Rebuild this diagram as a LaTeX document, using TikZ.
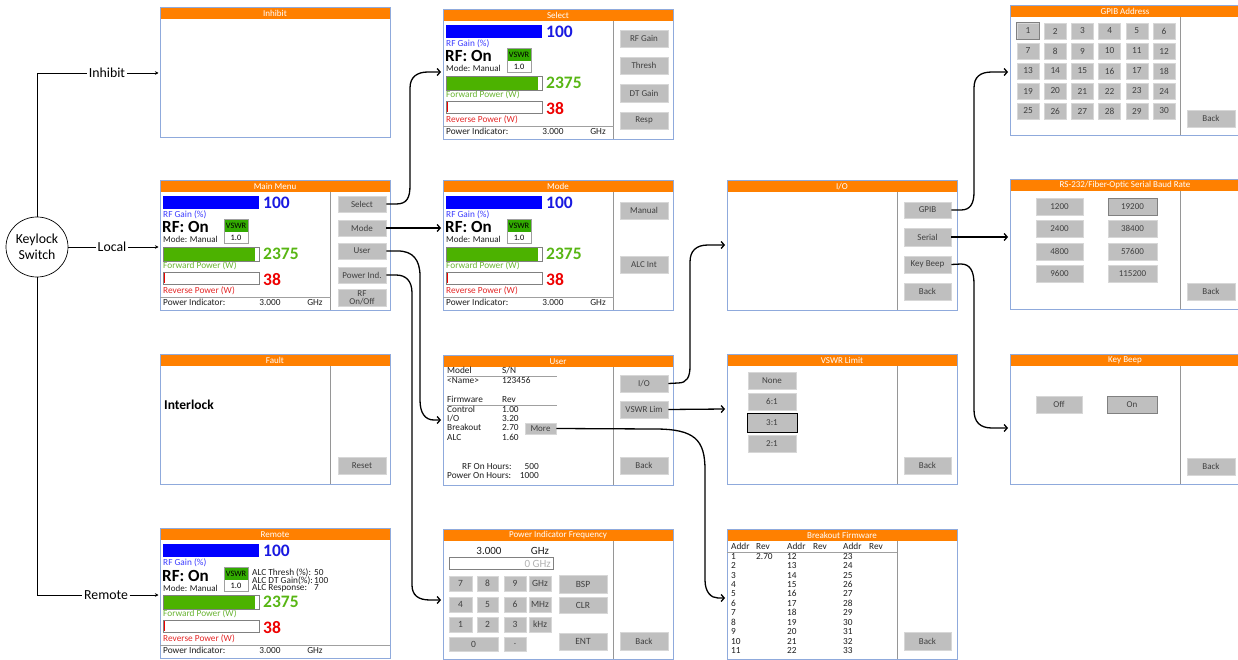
\documentclass[tikz,border=0pt]{standalone}
\usepackage{fontspec}
\setmainfont{Carlito}
\usetikzlibrary{arrows.meta,shapes.geometric}
\definecolor{ttlor}{RGB}{255,128,0}
\definecolor{pbord}{RGB}{143,170,220}
\definecolor{divg}{RGB}{150,150,150}
\definecolor{btnf}{RGB}{191,191,191}
\definecolor{btnb}{RGB}{215,215,215}
\definecolor{btnt}{RGB}{64,64,64}
\definecolor{gbar}{RGB}{0,0,255}
\definecolor{gnum}{RGB}{25,25,225}
\definecolor{gtxt}{RGB}{60,60,255}
\definecolor{fbar}{RGB}{76,178,0}
\definecolor{fnum}{RGB}{88,182,20}
\definecolor{ftxt}{RGB}{105,180,50}
\definecolor{vswrg}{RGB}{50,170,0}
\definecolor{rnum}{RGB}{238,0,0}
\definecolor{rtxt}{RGB}{228,40,40}
\definecolor{lgray}{RGB}{160,160,160}
\definecolor{txtc}{RGB}{30,30,30}

\newcommand{\fsm}{\fontsize{9.3}{9}\selectfont}
\newcommand{\fbt}{\fontsize{9}{8}\selectfont}
\newcommand{\fbg}{\fontsize{17.5}{18}\selectfont\bfseries}
\newcommand{\frf}{\fontsize{17}{18}\selectfont\bfseries}
\newcommand{\fti}{\fontsize{9}{9}\selectfont}
\newcommand{\flb}{\fontsize{13.8}{16}\selectfont}

\tikzset{
  panelbox/.style={fill=white, anchor=north west, inner sep=0pt, minimum width=230pt, minimum height=130pt},
  ttl/.style={text=white, font=\fti, inner sep=0pt},
  btn/.style={draw=btnb, fill=btnf, text=btnt, font=\fbt, inner sep=0pt, line width=0.6pt, align=center},
  txt/.style={font=\fsm, inner sep=0pt, anchor=west, text=txtc, text height=6pt, text depth=1.6pt},
  bignum/.style={font=\fbg, inner sep=0pt, anchor=west, text height=11.5pt, text depth=0pt},
  conn/.style={line width=1.3pt, -{Straight Barb[length=3pt,width=7pt]}},
  kline/.style={line width=0.7pt},
  karrow/.style={-{Stealth[length=3.5pt,width=3.5pt]}},
}

% panel: name, x0, y0, title, divider
\newcommand{\scr}[5]{%
  \node[panelbox] (#1) at (#2,#3) {};
  \fill[ttlor] (#2,#3) rectangle ++(230,12);
  \draw[pbord,line width=0.9pt] (#2,#3) rectangle ++(230,130);
  \node[ttl] (#1T) at ({#2+115},{#3+6.3}) {#4};
  \ifnum#5=1 \draw[divg,line width=0.8pt] ({#2+170.5},{#3+12}) -- ({#2+170.5},{#3+130});\fi
}
% button: [style] name, x1, y1, x2, y2, text
\newcommand{\btn}[7][]{\node[btn,minimum width={(#5-(#3))*1pt},minimum height={(#6-(#4))*1pt},#1] (#2) at ({(#3+#5)/2},{(#4+#6)/2}) {#7};}
% RF display: x0, y0, line end
\newcommand{\rfdisp}[3]{%
\begin{scope}[shift={(#1,#2)}]
  \fill[gbar] (3,16) rectangle (99,29);
  \node[bignum,text=gnum] at (103,22.5) {100};
  \node[txt,text=gtxt] at (3,35) {RF Gain (\%)};
  \node[bignum,font=\frf,anchor=base west,text=black,text height=11pt] at (2,53) {RF: On};
  \fill[vswrg] (64,39) rectangle (88,52);
  \draw[lgray,line width=0.6pt] (64,39) rectangle (88,63);
  \node[font=\fontsize{8.3}{8}\selectfont,inner sep=0pt] at (76,45.8) {VSWR};
  \node[font=\fontsize{8.3}{8}\selectfont,inner sep=0pt] at (76,57.5) {1.0};
  \node[txt,font=\fontsize{9}{9}\selectfont,anchor=base west,text height=5.5pt,text depth=0pt] at (3,63) {Mode: Manual};
  \fill[fbar] (3,67) rectangle (95,81);
  \draw[gray,line width=0.6pt] (3,67) rectangle (99,81);
  \node[bignum,text=fnum] at (103,73.5) {2375};
  \node[txt,text=ftxt] at (3,86) {Forward Power (W)};
  \draw[gray,line width=0.6pt] (3,92) rectangle (99,104);
  \draw[rnum,line width=1pt] (4,93) -- (4,103);
  \node[bignum,text=rnum] at (103,99.5) {38};
  \node[txt,text=rtxt] at (3,111) {Reverse Power (W)};
  \draw[lgray,line width=0.6pt] (0,117) -- (#3,117);
  \node[txt] at (3,123.5) {Power Indicator:};
  \node[txt,anchor=center] at (110,123.5) {3.000};
  \node[txt,anchor=center] at (155,123.5) {GHz};
\end{scope}}

\begin{document}
\begin{tikzpicture}[x=1pt,y=-1pt]
\useasboundingbox (0,0) rectangle (1238,660);
\fill[white] (0,0) rectangle (1238,660);

% ---------- panels ----------
\scr{inh}{160}{7}{Inhibit}{0}
\scr{mm}{160}{180}{Main Menu}{1}
\scr{flt}{160}{354}{Fault}{1}
\scr{rem}{160}{528}{Remote}{0}
\scr{sel}{443}{9}{Select}{1}
\scr{mod}{443}{180}{Mode}{1}
\scr{usr}{443}{355}{User}{1}
\scr{pif}{443}{529}{Power Indicator Frequency}{1}
\scr{io}{727}{180}{I/O}{1}
\scr{vsl}{727}{354}{VSWR Limit}{1}
\scr{bkf}{727}{529}{Breakout Firmware}{1}
\scr{gpib}{1010}{5}{GPIB Address}{1}
\scr{rs}{1010}{179}{RS-232/Fiber-Optic Serial Baud Rate}{1}
\scr{kb}{1010}{354}{Key Beep}{1}

% ---------- displays ----------
\rfdisp{160}{180}{171}
\rfdisp{443}{9}{170.5}
\rfdisp{443}{180}{170.5}
\rfdisp{160}{528}{230}

% Remote extras
\begin{scope}[txt/.append style={text height=5pt,text depth=1pt}]
\node[txt] at (252,573) {ALC Thresh (\%):};
\node[txt] at (252,581) {ALC DT Gain(\%):};
\node[txt] at (252,588.5) {ALC Response:};
\node[txt] at (314,573) {50};
\node[txt] at (314,581) {100};
\node[txt] at (314,588.5) {7};
\end{scope}

% Main menu buttons
\btn{selB}{338}{196}{386}{212}{Select}
\btn{modeB}{338}{220}{386}{236}{Mode}
\btn{userB}{338}{243}{386}{259}{User}
\btn{piB}{338}{267}{386}{283}{Power Ind.}
\btn{rfB}{338}{289}{386}{306}{RF\\On/Off}

% Fault
\node[txt,font=\fontsize{13.5}{14}\selectfont\bfseries,text=black,text height=9pt,text depth=2pt] (intl) at (164,406) {Interlock};
\btn{resetB}{338}{457}{386}{474}{Reset}

% Select buttons
\btn{rfgB}{620}{30}{668}{47}{RF Gain}
\btn{thrB}{620}{57}{668}{74}{Thresh}
\btn{dtgB}{620}{84}{668}{102}{DT Gain}
\btn{rspB}{620}{112}{668}{129}{Resp}

% Mode buttons
\btn{manB}{620}{202}{668}{219}{Manual}
\btn{alcB}{620}{256}{668}{273}{ALC Int}

% User panel
\node[txt] at (447,371) {Model};
\node[txt] at (502,371) {S/N};
\draw[lgray,line width=0.7pt] (447,376) -- (557,376);
\node[txt] at (447,381) {<Name>};
\node[txt] at (502,381) {123456};
\node[txt] at (447,400) {Firmware};
\node[txt] at (502,400) {Rev};
\draw[lgray,line width=0.7pt] (447,405) -- (557,405);
\node[txt] at (447,410) {Control};
\node[txt] at (502,410) {1.00};
\node[txt] at (447,419) {I/O};
\node[txt] at (502,419) {3.20};
\node[txt] at (447,428.5) {Breakout};
\node[txt] at (502,428.5) {2.70};
\node[txt] at (447,438) {ALC};
\node[txt] at (502,438) {1.60};
\btn{moreB}{525}{423}{556}{434}{More}
\node[txt] at (462,467) {RF On Hours:};
\node[txt,anchor=east] at (539,467) {500};
\node[txt] at (447,476) {Power On Hours:};
\node[txt,anchor=east] at (539,476) {1000};
\btn{ioB}{620}{375}{668}{392}{I/O}
\btn{vlB}{620}{401}{668}{418}{VSWR Lim}
\btn{ubackB}{620}{457}{668}{474}{Back}

% Power indicator frequency
\node[font=\fontsize{11}{11}\selectfont,inner sep=0pt,text=txtc] (pfv) at (489,551) {3.000};
\node[font=\fontsize{11}{11}\selectfont,inner sep=0pt,text=txtc] (pfu) at (540,551) {GHz};
\draw[gray,line width=0.7pt] (449,557) rectangle (553,569);
\node[font=\fontsize{11}{11}\selectfont,inner sep=0pt,anchor=east,text=lgray!80] (pfin) at (551,563.5) {0 GHz};
\begin{scope}[btn/.append style={font=\fontsize{9.5}{9}\selectfont}]
\btn{k7}{449}{576}{472}{591}{7}
\btn{k8}{477}{576}{498}{591}{8}
\btn{k9}{504}{576}{526}{591}{9}
\btn{kG}{529}{576}{551}{591}{GHz}
\btn{k4}{449}{597}{472}{612}{4}
\btn{k5}{477}{597}{498}{612}{5}
\btn{k6}{504}{597}{526}{612}{6}
\btn{kM}{529}{597}{551}{612}{MHz}
\btn{k1}{449}{617}{472}{632}{1}
\btn{k2}{477}{617}{498}{632}{2}
\btn{k3}{504}{617}{526}{632}{3}
\btn{kk}{529}{617}{551}{632}{kHz}
\btn{k0}{449}{637}{498}{651}{0}
\btn{kd}{504}{637}{526}{651}{.}
\btn{kbsp}{559}{575}{607}{593}{BSP}
\btn{kclr}{559}{597}{607}{613}{CLR}
\btn{kent}{559}{633}{607}{650}{ENT}
\end{scope}
\btn{pbackB}{620}{632}{668}{650}{Back}

% I/O
\btn{gpibB}{904}{202}{951}{218}{GPIB}
\btn{serB}{904}{228}{951}{246}{Serial}
\btn{kbB}{904}{256}{951}{273}{Key Beep}
\btn{iobackB}{904}{283}{951}{300}{Back}

% VSWR limit
\btn{vnone}{748}{372}{796}{389}{None}
\btn{v61}{748}{393}{796}{410}{6:1}
\btn[draw=black,line width=0.8pt]{v31}{747}{413}{797}{432}{3:1}
\btn{v21}{748}{435}{796}{452}{2:1}
\btn{vbackB}{904}{457}{951}{474}{Back}

% Breakout firmware
\node[txt] at (731,547.5) {Addr};
\node[txt] at (756,547.5) {Rev};
\node[txt] at (787,547.5) {Addr};
\node[txt] at (813,547.5) {Rev};
\node[txt] at (843,547.5) {Addr};
\node[txt] at (869,547.5) {Rev};
\draw[lgray,line width=0.7pt] (727,552.5) -- (897,552.5);
\foreach \i in {1,...,11}{
  \pgfmathtruncatemacro{\ia}{\i+11}
  \pgfmathtruncatemacro{\ib}{\i+22}
  \node[txt] at (731,{557+9.43*(\i-1)}) {\i};
  \node[txt] at (787,{557+9.43*(\i-1)}) {\ia};
  \node[txt] at (843,{557+9.43*(\i-1)}) {\ib};
}
\node[txt] at (756,557) {2.70};
\btn{bbackB}{904}{632}{951}{650}{Back}

% GPIB address
\foreach \r in {0,...,4}{
  \foreach \c in {1,...,6}{
    \pgfmathtruncatemacro{\n}{\r*6+\c}
    \node[btn,font=\fontsize{9.3}{9}\selectfont,minimum width=22pt,minimum height=16pt] (gp\n) at ({1028+27.2*(\c-1)},{31+20*\r}) {\n};
  }
}
\draw[gray,line width=0.8pt] (gp1.north west) rectangle (gp1.south east);
\btn{gbackB}{1187}{110}{1235}{127}{Back}

% RS-232
\btn{b1200}{1036}{198}{1083}{215}{1200}
\btn{b2400}{1036}{220}{1083}{237}{2400}
\btn{b4800}{1036}{243}{1083}{260}{4800}
\btn{b9600}{1036}{265}{1083}{282}{9600}
\btn[draw=gray,line width=0.8pt]{b19200}{1108}{198}{1157}{215}{19200}
\btn{b38400}{1108}{220}{1157}{237}{38400}
\btn{b57600}{1108}{243}{1157}{260}{57600}
\btn{b115200}{1108}{265}{1157}{282}{115200}
\btn{rbackB}{1187}{283}{1235}{300}{Back}

% Key beep
\btn{offB}{1036}{396}{1082}{413}{Off}
\btn[draw=gray,line width=0.8pt]{onB}{1107}{396}{1157}{413}{On}
\btn{kbackB}{1187}{458}{1235}{475}{Back}

% ---------- Keylock ----------
\node[draw,ellipse,line width=0.7pt,minimum width=62pt,minimum height=60pt,align=center,font=\flb,inner sep=0pt] (key) at (37,247) {Keylock\\Switch};
\node[font=\flb,inner sep=1.5pt] (lInh) at (107,73) {Inhibit};
\node[font=\flb,inner sep=1.5pt] (lLoc) at (112,247) {Local};
\node[font=\flb,inner sep=1.5pt] (lRem) at (106,595) {Remote};
\coordinate (inhIn) at (158.5,73);
\coordinate (locIn) at (158.5,247);
\coordinate (remIn) at (158.5,595);
\draw[kline] (key.north) |- (lInh.west);
\draw[kline] (key.east) -- (lLoc.west);
\draw[kline] (key.south) |- (lRem.west);
\draw[kline,karrow] (lInh.east) -- (inhIn);
\draw[kline,karrow] (lLoc.east) -- (locIn);
\draw[kline,karrow] (lRem.east) -- (remIn);

% ---------- connectors ----------
\coordinate (selIn) at (441,72);
\coordinate (modIn) at (441,228);
\coordinate (usrIn) at (441,420);
\coordinate (pifIn) at (441,600);
\coordinate (ioIn) at (725,245);
\coordinate (vslIn) at (725,409);
\coordinate (bkfIn) at (725,598);
\coordinate (gpibIn) at (1008,72);
\coordinate (rsIn) at (1008,237);
\coordinate (kbIn) at (1008,428);

\draw[conn] (selB.east) -- (396,204) .. controls (407,204) and (410,198) .. (410,185) -- (410,88) .. controls (410,77) and (417,72) .. (428,72) -- (selIn);
\draw[conn] (modeB.east) -- (modIn);
\draw[conn] (userB.east) -- (398,251) .. controls (413,251) and (420,260) .. (420,276) -- (420,400) .. controls (420,413) and (425,420) .. (434,420) -- (usrIn);
\draw[conn] (piB.east) -- (396,275) .. controls (406,275) and (412,281) .. (412,293) -- (412,585) .. controls (412,595) and (418,600) .. (430,600) -- (pifIn);
\draw[conn] (ioB.east) -- (678,383) .. controls (687,383) and (690,377) .. (690,366) -- (690,262) .. controls (690,251) and (696,245) .. (708,245) -- (ioIn);
\draw[conn] (vlB.east) -- (vslIn);
\draw[conn] (moreB.east) -- (655,429) .. controls (695,429) and (705,440) .. (705,470) -- (705,580) .. controls (705,592) and (711,598) .. (718,598) -- (bkfIn);
\draw[conn] (gpibB.east) -- (961,210) .. controls (970,210) and (974,204) .. (974,192) -- (974,88) .. controls (974,77) and (980,72) .. (992,72) -- (gpibIn);
\draw[conn] (serB.east) -- (rsIn);
\draw[conn] (kbB.east) -- (961,264) .. controls (970,264) and (974,271) .. (974,284) -- (974,410) .. controls (974,422) and (980,428) .. (992,428) -- (kbIn);

\end{tikzpicture}
\end{document}
